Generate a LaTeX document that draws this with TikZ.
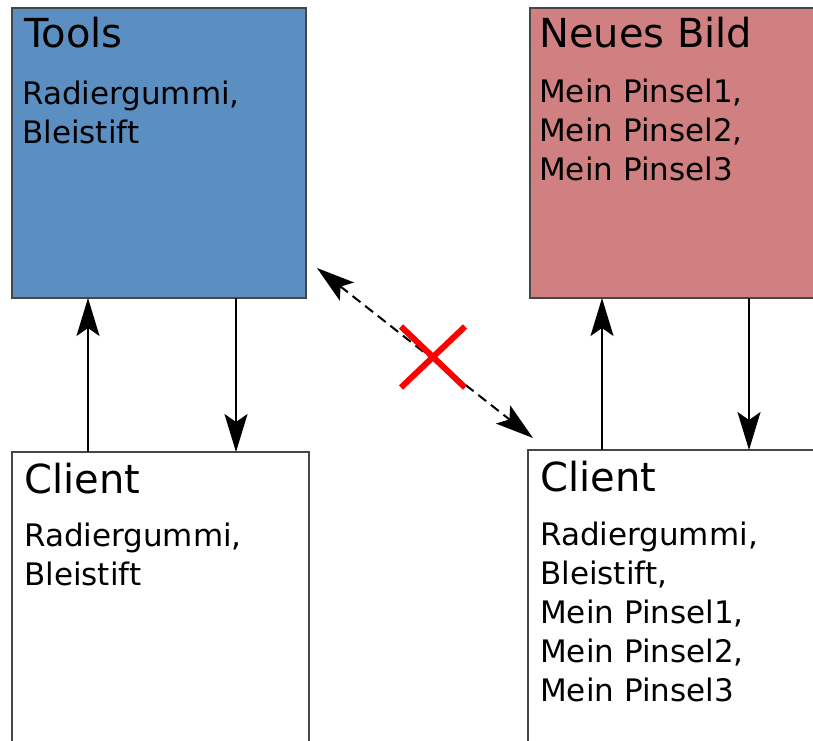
\documentclass[tikz,border=0pt]{standalone}
\usepackage{fontspec}
\setmainfont{DejaVu Sans}
\usetikzlibrary{arrows.meta,shapes.misc}
\definecolor{toolblue}{RGB}{91,143,194}
\definecolor{bildred}{RGB}{208,128,128}
\definecolor{framegray}{RGB}{70,70,70}

\begin{document}
\begin{tikzpicture}[x=1pt,y=-1pt,
  flowtip/.tip={Stealth[length=38pt,width=23pt,inset=8pt]},
  panel/.style={draw=framegray, line width=2pt, rectangle, inner sep=0pt,
    outer sep=0pt, anchor=north west},
  heading/.style={anchor=base west, inner sep=0pt,
    font=\fontsize{40}{48}\selectfont},
  items/.style={anchor=north west, inner sep=0pt, align=left,
    font=\fontsize{31}{39}\selectfont},
  flow/.style={line width=2pt, -{flowtip}},
  blocked/.style={line width=2pt, dash pattern=on 10pt off 6pt, {flowtip}-{flowtip}},
  crossmark/.style={cross out, draw=red, line width=6pt, inner sep=0pt,
    minimum width=58pt, minimum height=55pt}
]
\useasboundingbox (0,0) rectangle (813,740);
\clip (0,0) rectangle (813,740);

% the four panels
\node[panel, fill=toolblue, minimum width=294pt, minimum height=290pt] (tools) at (12,8) {};
\node[panel, fill=bildred, minimum width=300pt, minimum height=290pt] (bild) at (530,8) {};
\node[panel, fill=white, minimum width=297pt, minimum height=295pt] (clientL) at (12,452) {};
\node[panel, fill=white, minimum width=300pt, minimum height=297pt] (clientR) at (528,450) {};

% panel texts (item lists hang from the top of their first line)
\node[heading] (toolsT) at (24,47) {Tools};
\node[items] (toolsI) at (22,80.4) {Radiergummi,\\Bleistift};
\node[heading] (bildT) at (539,47) {Neues Bild};
\node[items] (bildI) at (539,78.4) {Mein Pinsel1,\\Mein Pinsel2,\\Mein Pinsel3};
\node[heading] (clientLT) at (24.5,493) {Client};
\node[items] (clientLI) at (24,522.4) {Radiergummi,\\Bleistift};
\node[heading] (clientRT) at (540.5,491) {Client};
\node[items] (clientRI) at (540,521.4) {Radiergummi,\\Bleistift,\\Mein Pinsel1,\\Mein Pinsel2,\\Mein Pinsel3};

% vertical request/response lines
\coordinate (upL) at (88,0);
\coordinate (downL) at (236,0);
\coordinate (upR) at (602,0);
\coordinate (downR) at (749,0);
\draw[flow] (clientL.north -| upL) -- (tools.south -| upL);
\draw[flow] (tools.south -| downL) -- (clientL.north -| downL);
\draw[flow] (clientR.north -| upR) -- (bild.south -| upR);
\draw[flow] (bild.south -| downR) -- (clientR.north -| downR);

% the blocked direct link
\coordinate (linkA) at (317,268);
\coordinate (linkB) at (533,438);
\draw[blocked] (linkA) -- (linkB);
\node[crossmark] (nolink) at (433,357) {};
\end{tikzpicture}
\end{document}
